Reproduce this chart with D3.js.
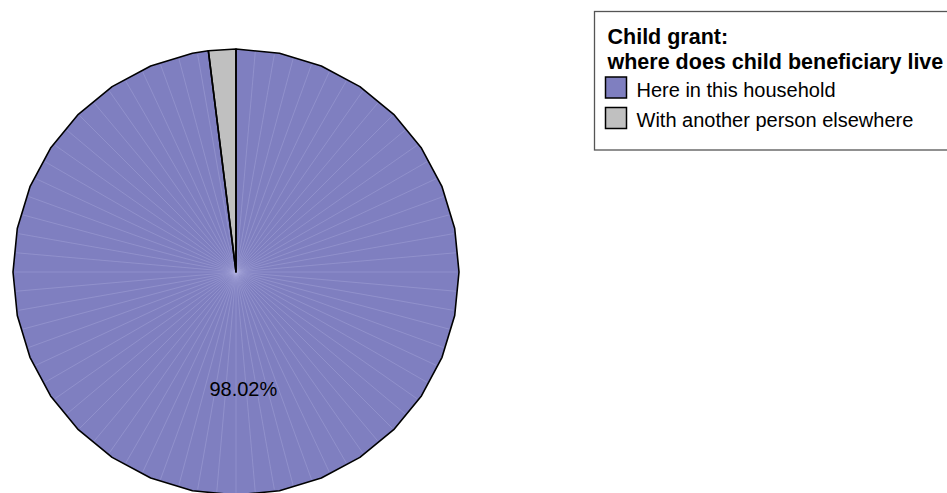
<!DOCTYPE html>
<html>
<head>
<meta charset="utf-8">
<script src="https://cdn.jsdelivr.net/npm/d3@7"></script>
<style>
  html, body { margin: 0; padding: 0; background: #fff; }
  svg { display: block; font-family: "Liberation Sans", Arial, sans-serif; }
</style>
</head>
<body>
<svg id="chart" width="947" height="493"></svg>
<script>
// Child grant: where the child beneficiary lives (percent of responses)
const categories = ["Here in this household", "With another person elsewhere"];
const values = [98.02, 1.98];
const colors = ["#7f7fc0", "#c0c0c0"];
const legendTitle = ["Child grant:", "where does child beneficiary live"];

const svg = d3.select("#chart");
const cx = 236, cy = 272, radius = 223;

const pie = d3.pie().sort(null).value(d => d);
const arcs = pie(values);

// Slices are drawn as faceted fans: a vertex every 11.25 degrees plus the slice ends
const step = Math.PI / 16;
const radial = d3.lineRadial().angle(d => d[0]).radius(d => d[1]);
function facetPoints(a0, a1) {
  const pts = [[a0, radius]];
  let k = Math.floor(a0 / step) + 1;
  while (k * step < a1 - 1e-6) { pts.push([k * step, radius]); k++; }
  pts.push([a1, radius]);
  return pts;
}

const g = svg.append("g").attr("transform", `translate(${cx},${cy})`);

arcs.forEach((a, i) => {
  const pts = [[0, 0]].concat(facetPoints(a.startAngle, a.endAngle));
  g.append("path")
    .attr("d", radial(pts) + "Z")
    .attr("fill", colors[i]);

  // faint rendering seams across the fill
  if (i === 0) {
    const seamStep = Math.PI / 36;
    const seams = d3.range(a.startAngle + seamStep, a.endAngle - seamStep / 2, seamStep);
    g.selectAll(null).data(seams).enter().append("line")
      .attr("x1", 0).attr("y1", 0)
      .attr("x2", t => radius * 0.99 * Math.sin(t))
      .attr("y2", t => -radius * 0.99 * Math.cos(t))
      .attr("stroke", "#b4b4e4")
      .attr("stroke-width", 0.6)
      .attr("stroke-opacity", 0.55);
  }
});

arcs.forEach((a, i) => {
  const pts = [[0, 0]].concat(facetPoints(a.startAngle, a.endAngle));
  g.append("path")
    .attr("d", radial(pts) + "Z")
    .attr("fill", "none")
    .attr("stroke", "#000")
    .attr("stroke-width", 1.6)
    .attr("stroke-linejoin", "round");
});

// Value label on the large slice
const big = arcs[0];
const mid = (big.startAngle + big.endAngle) / 2;
const labelR = radius * 0.527;
g.append("text")
  .attr("x", labelR * Math.sin(mid))
  .attr("y", -labelR * Math.cos(mid))
  .attr("dy", "0.36em")
  .attr("text-anchor", "middle")
  .attr("font-size", 20)
  .attr("fill", "#000")
  .text(d3.format(".2f")(big.value) + "%");

// Legend
const lg = svg.append("g").attr("transform", "translate(594.5,11.5)");
lg.append("rect")
  .attr("x", 0).attr("y", 0)
  .attr("width", 400).attr("height", 138.5)
  .attr("fill", "#fff")
  .attr("stroke", "#555")
  .attr("stroke-width", 1.3);

lg.selectAll("text.title").data(legendTitle).enter().append("text")
  .attr("class", "title")
  .attr("x", 13)
  .attr("y", (d, i) => 32.5 + i * 24.5)
  .attr("font-size", 21.5)
  .attr("font-weight", "bold")
  .attr("fill", "#000")
  .text(d => d);

const items = lg.selectAll("g.item").data(categories).enter().append("g")
  .attr("class", "item")
  .attr("transform", (d, i) => `translate(11,${65.5 + i * 30.5})`);
items.append("rect")
  .attr("width", 21).attr("height", 21)
  .attr("fill", (d, i) => colors[i])
  .attr("stroke", "#000")
  .attr("stroke-width", 1.5);
items.append("text")
  .attr("x", 31)
  .attr("y", 19.5)
  .attr("font-size", 20)
  .attr("fill", "#000")
  .text(d => d);
</script>
</body>
</html>
